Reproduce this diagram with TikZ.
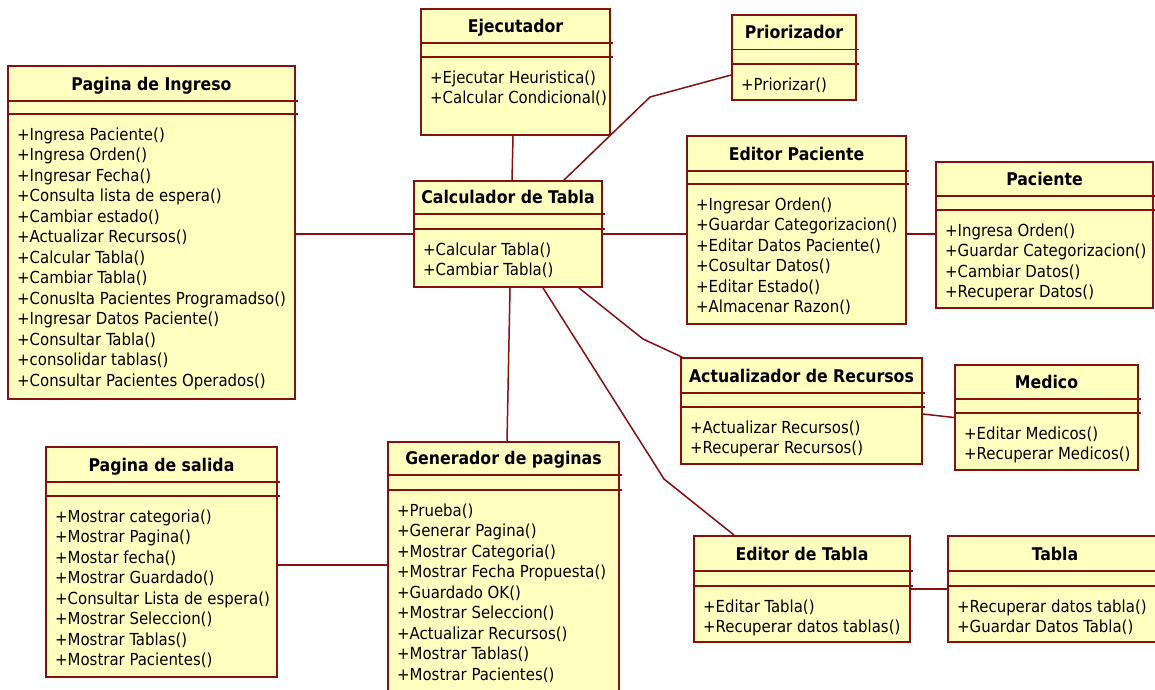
\documentclass[tikz,border=0pt]{standalone}
\usepackage{fontspec}
\setmainfont{DejaVu Sans Condensed}
\usetikzlibrary{fit}

\definecolor{umlfill}{RGB}{255,255,192}
\definecolor{umlline}{RGB}{135,16,16}

\tikzset{
  classbox/.style={draw=umlline, fill=umlfill, line width=1.8pt, inner sep=0pt},
  divider/.style={draw=umlline, line width=1.6pt},
  classtitle/.style={font=\bfseries\fontsize{17.5}{20}\selectfont, inner sep=0pt, anchor=base},
  classop/.style={font=\fontsize{16.6}{20}\selectfont, inner sep=0pt, anchor=base west},
  assoc/.style={draw=umlline, line width=1.5pt},
}

% #1 name, #2 left, #3 top, #4 right, #5 bottom,
% #6 first divider, #7 second divider, #8 title, #9 operations
\newcommand\umlclass[9]{%
  \node[classbox, fit={(#2,#3) (#4,#5)}] (#1) {};
  \draw[divider] (#2,#6) -- (#4+3,#6);
  \draw[divider] (#2,#7) -- (#4+3,#7);
  \node[classtitle] (#1-title) at ({(#2+#4)/2}, #6-11) {#8};
  \foreach \op [count=\k from 0] in {#9}
    \node[classop] (#1-op\k) at (#2+9, #7+26+20.5*\k) {\op};
}

\begin{document}
\begin{tikzpicture}[x=1pt, y=-1pt]
\useasboundingbox (0,0) rectangle (1155,689);

\umlclass{ingreso}{8}{66}{295}{399}{101}{114}{Pagina de Ingreso}{%
  +Ingresa Paciente(), +Ingresa Orden(), +Ingresar Fecha(),
  +Consulta lista de espera(), +Cambiar estado(), +Actualizar Recursos(),
  +Calcular Tabla(), +Cambiar Tabla(), +Conuslta Pacientes Programadso(),
  +Ingresar Datos Paciente(), +Consultar Tabla(), +consolidar tablas(),
  +Consultar Pacientes Operados()}

\umlclass{ejec}{421}{9}{610}{135}{43}{57}{Ejecutador}{%
  +Ejecutar Heuristica(), +Calcular Condicional()}

\umlclass{prior}{732}{15}{856}{100}{49.5}{64}{Priorizador}{%
  +Priorizar()}

\umlclass{calc}{414}{181}{602}{287}{214}{229}{Calculador de Tabla}{%
  +Calcular Tabla(), +Cambiar Tabla()}

\umlclass{editp}{687}{136}{906}{324}{171}{184}{Editor Paciente}{%
  +Ingresar Orden(), +Guardar Categorizacion(), +Editar Datos Paciente(),
  +Cosultar Datos(), +Editar Estado(), +Almacenar Razon()}

\umlclass{paciente}{936}{162}{1153}{308}{196}{210}{Paciente}{%
  +Ingresa Orden(), +Guardar Categorizacion(), +Cambiar Datos(),
  +Recuperar Datos()}

\umlclass{actual}{681}{358}{922}{464}{393}{407}{Actualizador de Recursos}{%
  +Actualizar Recursos(), +Recuperar Recursos()}

\umlclass{medico}{955}{365}{1138}{470}{399}{413}{Medico}{%
  +Editar Medicos(), +Recuperar Medicos()}

\umlclass{gen}{388}{442}{619}{695}{475}{490}{Generador de paginas}{%
  +Prueba(), +Generar Pagina(), +Mostrar Categoria(),
  +Mostrar Fecha Propuesta(), +Guardado OK(), +Mostrar Seleccion(),
  +Actualizar Recursos(), +Mostrar Tablas(), +Mostrar Pacientes()}

\umlclass{salida}{46}{447}{277}{677}{482}{496}{Pagina de salida}{%
  +Mostrar categoria(), +Mostrar Pagina(), +Mostar fecha(),
  +Mostrar Guardado(), +Consultar Lista de espera(), +Mostrar Seleccion(),
  +Mostrar Tablas(), +Mostrar Pacientes()}

\umlclass{edtab}{694}{536}{910}{642}{571}{586}{Editor de Tabla}{%
  +Editar Tabla(), +Recuperar datos tablas()}

\umlclass{tabla}{948}{536}{1162}{642}{571}{586}{Tabla}{%
  +Recuperar datos tabla(), +Guardar Datos Tabla()}

% bends of the associations
\coordinate (bendPrior) at (650,97);
\coordinate (bendActual) at (643,339);
\coordinate (bendEdTab) at (664,479);

% associations
\draw[assoc] (ingreso.east |- calc.west) -- (calc.west);
\draw[assoc] ([xshift=-2.5pt]ejec.south) -- ([xshift=4pt]calc.north);
\draw[assoc] ([yshift=-17.5pt]prior.west) -- (bendPrior) -- ([xshift=-39pt]calc.north east);
\draw[assoc] (calc.east) -- (calc.east -| editp.west);
\draw[assoc] (editp.east |- calc.east) -- (calc.east -| paciente.west);
\draw[assoc] ([xshift=-24pt]calc.south east) -- (bendActual) -- ([xshift=2pt]actual.north west);
\draw[assoc] ([yshift=-3pt]actual.east) -- (medico.west);
\draw[assoc] ([xshift=2pt]calc.south) -- ([xshift=3.5pt]gen.north);
\draw[assoc] ([yshift=-3pt]salida.east) -- ([yshift=-3pt]salida.east -| gen.west);
\draw[assoc] ([xshift=35pt]calc.south) -- (bendEdTab) -- ([xshift=41pt]edtab.north west);
\draw[assoc] (edtab.east) -- (edtab.east -| tabla.west);
\end{tikzpicture}
\end{document}
